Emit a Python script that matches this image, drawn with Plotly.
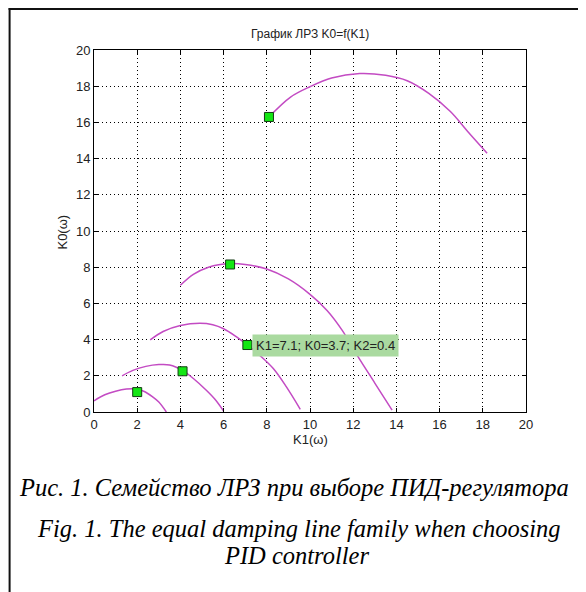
import plotly.graph_objects as go

# ---- data ----
c1_k1 = [0.0, 0.5, 1.0, 1.5, 1.9, 2.3, 2.7, 3.0, 3.35]
c1_k0 = [0.62, 0.95, 1.15, 1.27, 1.28, 1.15, 0.85, 0.55, 0.0]

c2_k1 = [1.3, 1.8, 2.4, 3.0, 3.5, 4.1, 4.6, 5.2, 5.6, 6.0]
c2_k0 = [2.0, 2.3, 2.52, 2.62, 2.6, 2.3, 1.85, 1.2, 0.7, 0.05]

c3_k1 = [2.6, 3.2, 4.0, 4.9, 5.5, 6.0, 6.6, 7.1, 7.7, 8.3, 8.9, 9.55]
c3_k0 = [3.98, 4.45, 4.78, 4.9, 4.82, 4.6, 4.15, 3.7, 3.1, 2.4, 1.4, 0.15]

c4_k1 = [4.0, 4.6, 5.3, 6.3, 7.0, 8.0, 9.0, 10.0, 10.8, 11.5, 12.2, 13.0, 13.8]
c4_k0 = [7.0, 7.6, 8.0, 8.2, 8.15, 7.9, 7.35, 6.5, 5.6, 4.5, 3.1, 1.6, 0.1]

c5_k1 = [8.1, 9.1, 10.0, 11.0, 12.3, 13.5, 14.5, 15.5, 16.5, 17.3, 18.2]
c5_k0 = [16.3, 17.4, 17.97, 18.45, 18.7, 18.6, 18.3, 17.6, 16.6, 15.5, 14.3]

marker_k1 = [2.0, 4.1, 7.1, 6.3, 8.1]
marker_k0 = [1.1, 2.25, 3.7, 8.15, 16.3]

label_k1, label_k0 = 7.1, 3.7
label_text = "K1=7.1; K0=3.7; K2=0.4"

title_text = "График ЛРЗ K0=f(K1)"
xlabel = "K1(ω)"
ylabel = "K0(ω)"
caption_ru = "Рис. 1. Семейство ЛРЗ при выборе ПИД-регулятора"
caption_en1 = "Fig. 1. The equal damping line family when choosing"
caption_en2 = "PID controller"

ticks = list(range(0, 21, 2))

# ---- figure ----
# the page body adds an 8px margin, so layout coordinates are screen coordinates minus OFF
OFF = 8
W, H = 586, 592
L, R, T, B = 93.5 - OFF, 526 - OFF, 50 - OFF, 412 - OFF

fig = go.Figure()
curve_color = "rgb(195,75,195)"
for xs, ys in [(c1_k1, c1_k0), (c2_k1, c2_k0), (c3_k1, c3_k0), (c4_k1, c4_k0), (c5_k1, c5_k0)]:
    fig.add_trace(go.Scatter(x=xs, y=ys, mode="lines", line=dict(color=curve_color, width=1.5, shape="spline"),
                             showlegend=False, hoverinfo="skip"))

fig.add_trace(go.Scatter(x=marker_k1, y=marker_k0, mode="markers",
                         marker=dict(symbol="square", size=9, color="rgb(20,230,20)",
                                     line=dict(color="rgb(20,60,20)", width=1)),
                         showlegend=False))

fig.add_annotation(x=label_k1, y=label_k0, text=label_text, showarrow=False,
                   xanchor="left", yanchor="middle", xshift=5,
                   bgcolor="rgb(170,218,160)", borderpad=3,
                   font=dict(family="Liberation Sans", size=13, color="#222"))

def px_x(p):  # screen px -> paper
    return (p - OFF - L) / (R - L)

def px_y(p):
    return (B - (p - OFF)) / (B - T)

# border lines (top & left) of the original figure frame
fig.add_shape(type="line", xref="paper", yref="paper", x0=px_x(8), x1=px_x(W + 20), y0=px_y(9), y1=px_y(9),
              line=dict(color="#111", width=2))
fig.add_shape(type="line", xref="paper", yref="paper", x0=px_x(9), x1=px_x(9), y0=px_y(8), y1=px_y(H + 20),
              line=dict(color="#111", width=2))

def text_at(x, y, txt, font, angle=0):
    fig.add_annotation(xref="paper", yref="paper", x=px_x(x), y=px_y(y), text=txt, showarrow=False,
                       xanchor="center", yanchor="middle", textangle=angle, font=font)

sans12 = dict(family="Liberation Sans", size=12, color="#222")
sans13 = dict(family="Liberation Sans", size=13, color="#222")
serif = dict(family="Liberation Serif", size=24.5, color="black", style="italic")

text_at(310, 34, title_text, sans12)
text_at(310, 439, xlabel, sans13)
text_at(62, 232, ylabel, sans13, angle=-90)
text_at(294, 487, caption_ru, serif)
text_at(299, 528, caption_en1, serif)
text_at(296, 555, caption_en2, serif)

axis_common = dict(range=[0, 20], tickvals=ticks, ticktext=[str(t) for t in ticks],
                   showgrid=True, gridcolor="black", griddash="1px,3px", gridwidth=1,
                   showline=True, linecolor="black", linewidth=1, mirror="ticks",
                   ticks="inside", ticklen=4, tickcolor="black", zeroline=False,
                   tickfont=dict(family="Liberation Sans", size=13, color="#222"))

fig.update_layout(width=W, height=H, paper_bgcolor="white", plot_bgcolor="white",
                  margin=dict(l=L, r=W - R, t=T, b=H - B),
                  xaxis=axis_common, yaxis=axis_common)

fig.write_html("out.html")
